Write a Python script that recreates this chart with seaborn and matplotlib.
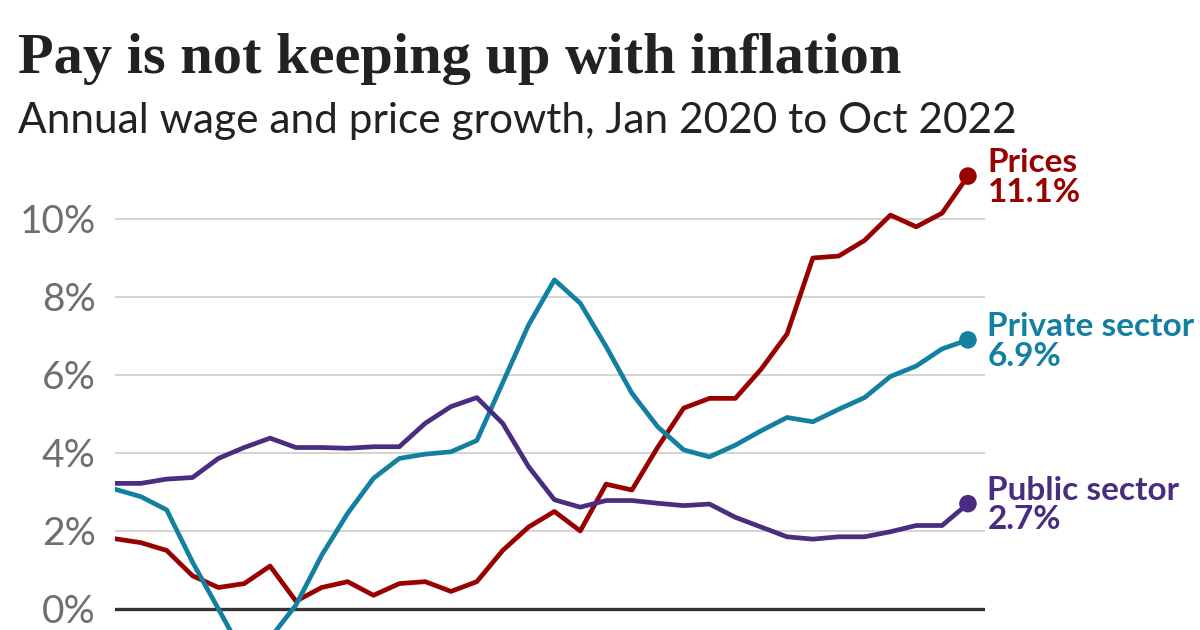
import pandas as pd
import seaborn as sns
import matplotlib.pyplot as plt

# monthly values, Jan 2020 .. Oct 2022
months = pd.date_range("2020-01-01", "2022-10-01", freq="MS").strftime("%b %Y").tolist()

prices = [1.8, 1.7, 1.5, 0.85, 0.55, 0.65, 1.1, 0.2, 0.55, 0.7, 0.35, 0.65,
          0.7, 0.45, 0.7, 1.5, 2.1, 2.5, 2.0, 3.2, 3.05, 4.15, 5.15, 5.4,
          5.4, 6.15, 7.05, 9.0, 9.05, 9.45, 10.1, 9.8, 10.15, 11.1]
private = [3.07, 2.88, 2.54, 1.2, 0.0, -1.2, -0.75, 0.1, 1.38, 2.45, 3.35, 3.86,
           3.97, 4.03, 4.32, 5.8, 7.28, 8.44, 7.84, 6.73, 5.53, 4.67, 4.08, 3.9,
           4.2, 4.57, 4.91, 4.8, 5.12, 5.42, 5.96, 6.23, 6.67, 6.9]
public = [3.22, 3.22, 3.33, 3.37, 3.86, 4.14, 4.38, 4.14, 4.14, 4.12, 4.16, 4.16,
          4.76, 5.19, 5.42, 4.76, 3.65, 2.8, 2.61, 2.78, 2.78, 2.71, 2.65, 2.69,
          2.35, 2.1, 1.85, 1.79, 1.85, 1.85, 1.98, 2.14, 2.14, 2.7]

series_names = ["Prices", "Private sector", "Public sector"]
series_labels = ["11.1%", "6.9%", "2.7%"]
colors = ["#990000", "#1380A1", "#4A2C80"]
y_ticks = [0, 2, 4, 6, 8, 10]

df = pd.DataFrame({"month": months, "idx": range(len(months)),
                   "Prices": prices, "Private sector": private, "Public sector": public})
long = df.melt(id_vars=["month", "idx"], var_name="series", value_name="growth")

sns.set_theme(style="white")
plt.rcParams['font.family'] = ['Lato', 'DejaVu Sans']

fig = plt.figure(figsize=(12, 6.3), dpi=100)
ax = fig.add_axes([115 / 1200, 0, 870 / 1200, 469.5 / 630])

for y in y_ticks[1:]:
    ax.axhline(y, color="#cccccc", lw=1.2, zorder=0)
ax.axhline(0, color="#333333", lw=2.4, zorder=1)

sns.lineplot(data=long, x="idx", y="growth", hue="series", hue_order=series_names,
             palette=colors, lw=3.4, legend=False, ax=ax, zorder=3)

last = long[long["idx"] == long["idx"].max()]
sns.scatterplot(data=last, x="idx", y="growth", hue="series", hue_order=series_names,
                palette=colors, s=160, edgecolor="none", legend=False, ax=ax,
                zorder=4, clip_on=False)

# end labels next to the dots
for name, lab, col in zip(series_names, series_labels, colors):
    yv = df[name].iloc[-1]
    ax.annotate(f"{name}\n{lab}", xy=(df["idx"].iloc[-1], yv), xytext=(14, -1),
                textcoords="offset points", ha="left", va="center",
                fontsize=24, fontweight="bold", color=col, linespacing=1.02,
                annotation_clip=False)

ax.set_xlim(0, 33.66)
ax.set_ylim(-0.54, 11.5)
ax.set_yticks(y_ticks)
ax.set_yticklabels([f"{t}%" for t in y_ticks], fontsize=28, color="#6e6e6e")
ax.set_xticks([])
ax.tick_params(axis="y", length=0, pad=14)
ax.set_xlabel("")
ax.set_ylabel("")
for s in ax.spines.values():
    s.set_visible(False)

fig.text(18 / 1200, 1 - 73 / 630, "Pay is not keeping up with inflation",
         fontsize=42, fontweight="bold", color="#222222", va="baseline",
         family=["Liberation Serif", "DejaVu Serif"])
fig.text(18 / 1200, 1 - 133 / 630, "Annual wage and price growth, Jan 2020 to Oct 2022",
         fontsize=30.5, color="#222222", va="baseline")

fig.savefig("out.png", dpi=100)
